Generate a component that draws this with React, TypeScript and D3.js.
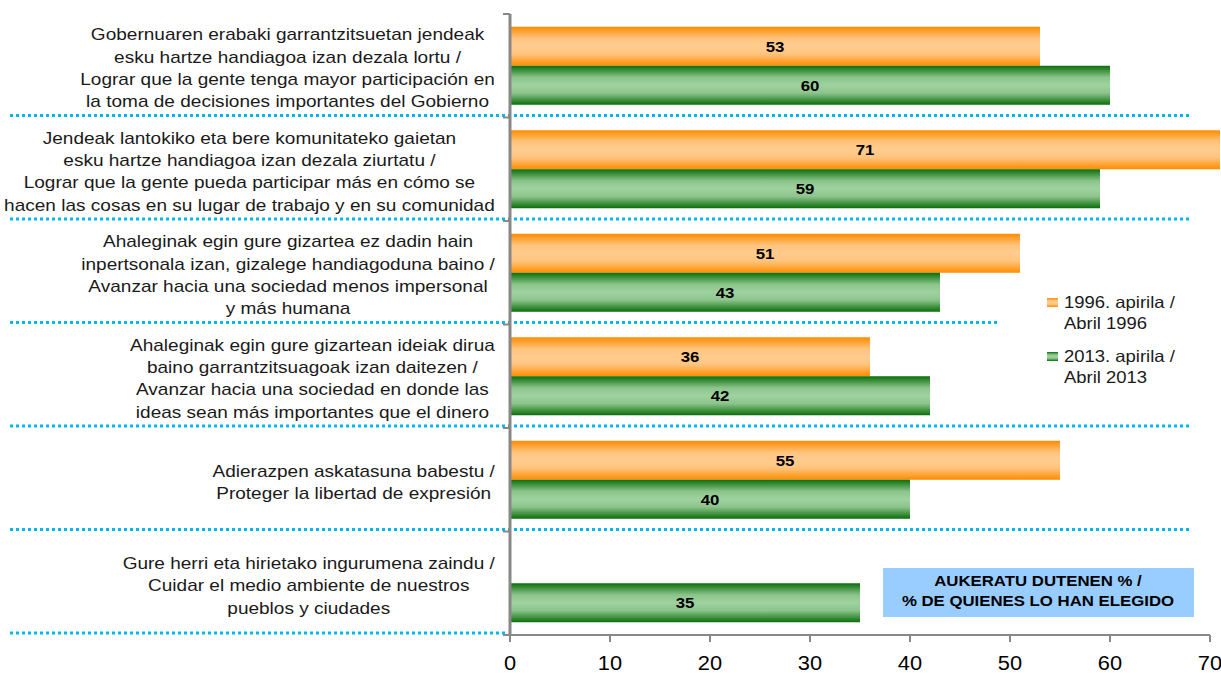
import React from "react";
import * as d3 from "d3";

const categories: string[][] = [
  ["Gobernuaren erabaki garrantzitsuetan jendeak", "esku hartze handiagoa izan dezala lortu /", "Lograr que la gente tenga mayor participación en", "la toma de decisiones importantes del Gobierno"],
  ["Jendeak lantokiko eta bere komunitateko gaietan", "esku hartze handiagoa izan dezala ziurtatu /", "Lograr que la gente pueda participar más en cómo se", "hacen las cosas en su lugar de trabajo y en su comunidad"],
  ["Ahaleginak egin gure gizartea ez dadin hain", "inpertsonala izan, gizalege handiagoduna baino /", "Avanzar hacia una sociedad menos impersonal", "y más humana"],
  ["Ahaleginak egin gure gizartean ideiak dirua", "baino garrantzitsuagoak izan daitezen /", "Avanzar hacia una sociedad en donde las", "ideas sean más importantes que el dinero"],
  ["Adierazpen askatasuna babestu /", "Proteger la libertad de expresión"],
  ["Gure herri eta hirietako ingurumena zaindu /", "Cuidar el medio ambiente de nuestros", "pueblos y ciudades"],
];
const values1996: (number | null)[] = [53, 71, 51, 36, 55, null];
const values2013: number[] = [60, 59, 43, 42, 40, 35];
const seriesNames: string[][] = [["1996. apirila /", "Abril 1996"], ["2013. apirila /", "Abril 2013"]];
const xTicks: number[] = [0, 10, 20, 30, 40, 50, 60, 70];
const noteLines: string[] = ["AUKERATU DUTENEN % /", "% DE QUIENES LO HAN ELEGIDO"];

const W = 1221, H = 673;
const left = 510, right = 1210, top = 14, bottom = 635;
const FONT = "Arial, 'Liberation Sans', sans-serif";
const SX = 1.12;

function measure(text: string, font: string): number {
  const c = document.createElement("canvas").getContext("2d")!;
  c.font = font;
  return c.measureText(text).width;
}

function T(props: { x: number; y: number; size: number; bold?: boolean; anchor?: string; fill?: string; children: any }) {
  const { x, y, size, bold, anchor, fill, children } = props;
  return (
    <text transform={`translate(${x},${y}) scale(${SX},1)`} fontSize={size} fontWeight={bold ? "bold" : "normal"}
      textAnchor={anchor || "start"} fill={fill || "#000"}>{children}</text>
  );
}

export default function App() {
  const x = d3.scaleLinear().domain([0, 70]).range([left, right]);
  const idx = categories.map((_, i) => String(i));
  const y = d3.scaleBand().domain(idx).range([top, bottom]).paddingInner(0).paddingOuter(0);
  const inner = d3.scaleBand().domain(["a", "b"]).range([0, y.bandwidth()]).paddingInner(0).paddingOuter(0.327);
  const bw = y.bandwidth();
  const labelSize = 17;
  const labelFont = `${labelSize}px 'Liberation Sans', Arial, sans-serif`;
  const lineH = 22.3;
  const boundaries = d3.range(categories.length + 1).map((i) => top + i * bw);
  const dotLen = [1190, 1190, 998, 1190, 1190, 505];

  return (
    <svg width={W} height={H} style={{ position: "absolute", left: 0, top: 0, fontFamily: FONT }}>
      <defs>
        <linearGradient id="gOr" x1="0" y1="0" x2="0" y2="1">
          <stop offset="0" stopColor="#FF8C00" />
          <stop offset="0.3" stopColor="#FFC47E" />
          <stop offset="0.5" stopColor="#FFCC8E" />
          <stop offset="0.7" stopColor="#FFC47E" />
          <stop offset="1" stopColor="#FF8C00" />
        </linearGradient>
        <linearGradient id="gGr" x1="0" y1="0" x2="0" y2="1">
          <stop offset="0" stopColor="#0A6E0A" />
          <stop offset="0.3" stopColor="#8CC48C" />
          <stop offset="0.5" stopColor="#A0D2A0" />
          <stop offset="0.7" stopColor="#8CC48C" />
          <stop offset="1" stopColor="#0A6E0A" />
        </linearGradient>
      </defs>
      <rect width={W} height={H} fill="#fff" />

      {boundaries.slice(1).map((b, i) => (
        <line key={"d" + i} x1={10} x2={dotLen[i]} y1={b - 2} y2={b - 2}
          stroke="#00B8F0" strokeWidth={3} strokeDasharray="3 3" />
      ))}

      {categories.map((_, i) => {
        const y0 = y(String(i))!;
        const v1 = values1996[i];
        const v2 = values2013[i];
        const ya = y0 + inner("a")!;
        const yb = y0 + inner("b")!;
        const h = inner.bandwidth();
        return (
          <g key={"b" + i}>
            {v1 != null && (
              <g>
                <rect x={x(0)} y={ya} width={x(v1) - x(0)} height={h} fill="url(#gOr)" />
                <T x={(x(0) + x(v1)) / 2} y={ya + h / 2 + 5.5} anchor="middle" bold size={15}>{v1}</T>
              </g>
            )}
            <rect x={x(0)} y={yb} width={x(v2) - x(0)} height={h} fill="url(#gGr)" />
            <T x={(x(0) + x(v2)) / 2} y={yb + h / 2 + 5.5} anchor="middle" bold size={15}>{v2}</T>
          </g>
        );
      })}

      <line x1={left} x2={left} y1={top} y2={bottom} stroke="#888" strokeWidth={3} />
      {boundaries.map((b, i) => (
        <line key={"yt" + i} x1={left - 7} x2={left} y1={b} y2={b} stroke="#888" strokeWidth={2} />
      ))}
      <line x1={left} x2={right} y1={bottom} y2={bottom} stroke="#888" strokeWidth={2} />
      {xTicks.map((t) => (
        <g key={"xt" + t}>
          <line x1={x(t)} x2={x(t)} y1={bottom} y2={bottom + 7} stroke="#888" strokeWidth={2} />
          <T x={x(t)} y={670} anchor="middle" size={19.5}>{t}</T>
        </g>
      ))}

      {categories.map((lines, i) => {
        const maxW = (d3.max(lines, (l) => measure(l, labelFont)) || 0) * SX;
        const cx = 495 - maxW / 2;
        const cy = y(String(i))! + bw / 2;
        const start = cy - ((lines.length - 1) * lineH) / 2;
        return (
          <g key={"l" + i}>
            {lines.map((l, j) => (
              <T key={j} x={cx} y={start + j * lineH + 8} anchor="middle" size={labelSize} fill="#1a1a1a">{l}</T>
            ))}
          </g>
        );
      })}

      {seriesNames.map((s, i) => (
        <g key={"lg" + i} transform={`translate(1047, ${298 + i * 54})`}>
          <rect x={0} y={0} width={11} height={9} fill={i === 0 ? "url(#gOr)" : "url(#gGr)"} />
          <T x={17} y={10} size={16.5} fill="#1a1a1a">{s[0]}</T>
          <T x={17} y={31} size={16.5} fill="#1a1a1a">{s[1]}</T>
        </g>
      ))}

      <rect x={883} y={568} width={311} height={49} fill="#99CCFF" />
      {noteLines.map((t, i) => (
        <T key={"n" + i} x={1038} y={586 + i * 20} anchor="middle" bold size={15}>{t}</T>
      ))}
    </svg>
  );
}
